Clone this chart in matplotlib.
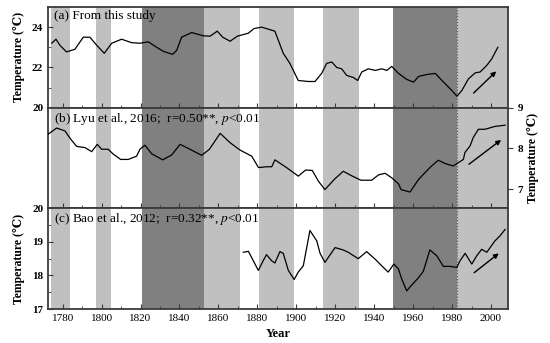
import matplotlib.pyplot as plt
import numpy as np

plt.rcParams['font.family'] = ['Liberation Serif', 'DejaVu Serif']
plt.rcParams['mathtext.fontset'] = 'stix'

# shaded periods (start, end, shade)
bands = [(1774, 1784, 'l'), (1797, 1805, 'l'), (1821, 1852.5, 'd'), (1852.5, 1871, 'l'),
         (1881, 1899, 'l'), (1913.5, 1932, 'l'), (1949.5, 1982.5, 'd'), (1982.5, 2010, 'l')]
split_year = 1982.5

# (a) from this study
years_a = [1774.4, 1776.6, 1778.6, 1782, 1786.3, 1790.6, 1794, 1797.5, 1801.4, 1805.2,
           1810.3, 1815.4, 1819.7, 1824, 1828.3, 1831.7, 1836.5, 1838.6, 1841.1, 1846.3,
           1852.2, 1855.7, 1859.4, 1862.2, 1866, 1869.7, 1875.4, 1878.3, 1882.2, 1889,
           1893.3, 1896.7, 1901, 1906.1, 1909.6, 1913, 1915.6, 1918.2, 1920.7, 1923.3,
           1925.9, 1929.3, 1931.5, 1933.6, 1937, 1940.5, 1943.9, 1946.5, 1949, 1952.5,
           1956.8, 1960.2, 1962.8, 1967.1, 1971.4, 1974.8, 1979.1, 1982.5, 1985, 1988.4,
           1991.9, 1994.4, 1997.8, 2000.4, 2003.5]
temp_a = [23.2, 23.4, 23.1, 22.77, 22.9, 23.5, 23.5, 23.1, 22.7, 23.2,
          23.4, 23.23, 23.2, 23.27, 23.0, 22.8, 22.65, 22.85, 23.5, 23.73,
          23.57, 23.55, 23.8, 23.5, 23.3, 23.55, 23.7, 23.93, 24.0, 23.8,
          22.7, 22.2, 21.35, 21.3, 21.3, 21.7, 22.2, 22.27, 22.0, 21.93,
          21.6, 21.5, 21.35, 21.77, 21.93, 21.85, 21.93, 21.85, 22.05, 21.7,
          21.4, 21.27, 21.55, 21.65, 21.7, 21.35, 20.93, 20.57, 20.85, 21.43,
          21.73, 21.77, 22.1, 22.43, 23.0]

# (b) Lyu et al., 2016
years_b = [1772.6, 1776.9, 1781.2, 1784.1, 1787.2, 1791.5, 1794.9, 1797.8, 1800, 1803.4,
           1806, 1809.8, 1813.7, 1818, 1819.7, 1822.3, 1825.7, 1831.4, 1836, 1840.3,
           1845.4, 1851.4, 1855.4, 1860.9, 1866, 1871.1, 1877.1, 1880.6, 1884.8, 1887.4,
           1889, 1895, 1901, 1904.8, 1908.2, 1911.3, 1914.7, 1919.5, 1924.1, 1928.8,
           1933.2, 1938.7, 1942.2, 1945.6, 1949, 1952.5, 1953.8, 1958.4, 1962.8, 1968.8,
           1972.9, 1976.4, 1980.6, 1983.2, 1985.8, 1986.6, 1989.2, 1990.9, 1993.5, 1996.9,
           2002, 2007.2]
temp_b = [8.35, 8.5, 8.43, 8.23, 8.05, 8.02, 7.92, 8.1, 7.98, 7.98,
          7.86, 7.73, 7.73, 7.81, 7.98, 8.08, 7.87, 7.72, 7.84, 8.1,
          7.98, 7.83, 7.98, 8.37, 8.14, 7.96, 7.81, 7.53, 7.55, 7.55,
          7.72, 7.53, 7.32, 7.47, 7.46, 7.2, 6.99, 7.24, 7.44, 7.32,
          7.22, 7.22, 7.35, 7.39, 7.28, 7.13, 6.99, 6.93, 7.24, 7.54,
          7.71, 7.63, 7.57, 7.65, 7.73, 7.9, 8.06, 8.27, 8.47, 8.47,
          8.54, 8.57]

# (c) Bao et al., 2012
years_c = [1872.8, 1875.4, 1877.9, 1880.5, 1883, 1884.7, 1887.3, 1889, 1891.6, 1893.3,
           1895.9, 1898.9, 1901, 1903.6, 1907, 1910.5, 1912.2, 1914.7, 1919.9, 1924.1,
           1926.7, 1931.8, 1936.1, 1940.4, 1943.8, 1947.2, 1950.1, 1952.4, 1954.1, 1956.7,
           1959.2, 1962.7, 1965.2, 1968.6, 1972.1, 1975.5, 1978.9, 1982.4, 1984.1, 1986.7,
           1990.1, 1992.7, 1995.2, 1997.8, 2002, 2004.6, 2007.2]
temp_c = [18.69, 18.72, 18.44, 18.15, 18.44, 18.62, 18.44, 18.37, 18.71, 18.66,
          18.15, 17.88, 18.1, 18.29, 19.34, 19.03, 18.66, 18.39, 18.83, 18.76,
          18.69, 18.5, 18.71, 18.49, 18.29, 18.1, 18.34, 18.2, 17.9, 17.54,
          17.71, 17.93, 18.12, 18.76, 18.59, 18.27, 18.27, 18.24, 18.44, 18.66,
          18.34, 18.59, 18.78, 18.69, 19.03, 19.18, 19.37]

# trend arrows ((x0, y0), (x1, y1))
arrow_a = ((1990, 20.63), (2003.7, 21.9))
arrow_b = ((1987.5, 7.57), (2006.3, 8.25))
arrow_c = ((1990.2, 18.03), (2005.1, 18.71))

labels = ['(a) From this study',
          '(b) Lyu et al., 2016;  r=0.50**, $\\mathit{p}$<0.01',
          '(c) Bao et al., 2012;  r=0.32**, $\\mathit{p}$<0.01']

fig = plt.figure(figsize=(5.5, 3.43), dpi=100)
gs = fig.add_gridspec(3, 1, left=0.0873, right=0.9236, top=0.9796, bottom=0.0991, hspace=0)
axes = [fig.add_subplot(gs[i]) for i in range(3)]

frame_col = '#3a3a3a'
for ax in axes:
    for s, e, shade in bands:
        ax.axvspan(s, e, color='#c0c0c0' if shade == 'l' else '#808080', lw=0, zorder=0)
    ax.axvline(split_year, color='#555555', ls=':', lw=0.8, zorder=1)
    ax.set_xlim(1772.5, 2008.7)
    for sp in ax.spines.values():
        sp.set_color(frame_col)
        sp.set_linewidth(1.3)
    ax.tick_params(direction='in', which='both', colors=frame_col, labelcolor='black', labelsize=8)
    ax.set_xticks(np.arange(1780, 2001, 20))
    ax.set_xticks(np.arange(1790, 2001, 20), minor=True)

series = [(years_a, temp_a, arrow_a), (years_b, temp_b, arrow_b), (years_c, temp_c, arrow_c)]
for ax, (xs, ys, arr), lab in zip(axes, series, labels):
    ax.plot(xs, ys, color='black', lw=0.9, zorder=3)
    ax.annotate('', xy=arr[1], xytext=arr[0],
                arrowprops=dict(arrowstyle='-|>', color='black', lw=1.0, mutation_scale=7), zorder=4)
    ax.text(0.014, 0.97, lab, transform=ax.transAxes, fontsize=9.5, va='top', ha='left', zorder=5)

ax_a, ax_b, ax_c = axes
ax_a.set_ylim(20, 25)
ax_a.set_yticks([20, 22, 24])
ax_a.set_yticks([21, 23], minor=True)
ax_a.tick_params(labelbottom=False)

ax_b.set_ylim(6.53, 9)
ax_b.yaxis.tick_right()
ax_b.yaxis.set_label_position('right')
ax_b.set_yticks([7, 8, 9])
ax_b.tick_params(axis='y', direction='out')
ax_b.tick_params(labelbottom=False)

ax_c.set_ylim(17, 20)
ax_c.set_yticks([17, 18, 19, 20])
ax_c.set_yticks([17.5, 18.5, 19.5], minor=True)

for ax in axes:
    for t in ax.get_yticklabels():
        t.set_fontweight('bold')

ylab = 'Temperature (\u2103)'
ax_a.set_ylabel(ylab, fontsize=8.5, fontweight='bold', labelpad=5)
ax_b.set_ylabel(ylab, fontsize=8.5, fontweight='bold', labelpad=3)
ax_c.set_ylabel(ylab, fontsize=8.5, fontweight='bold', labelpad=5)
ax_c.set_xlabel('Year', fontsize=9, fontweight='bold', labelpad=4)

fig.savefig('out.png', dpi=100)
